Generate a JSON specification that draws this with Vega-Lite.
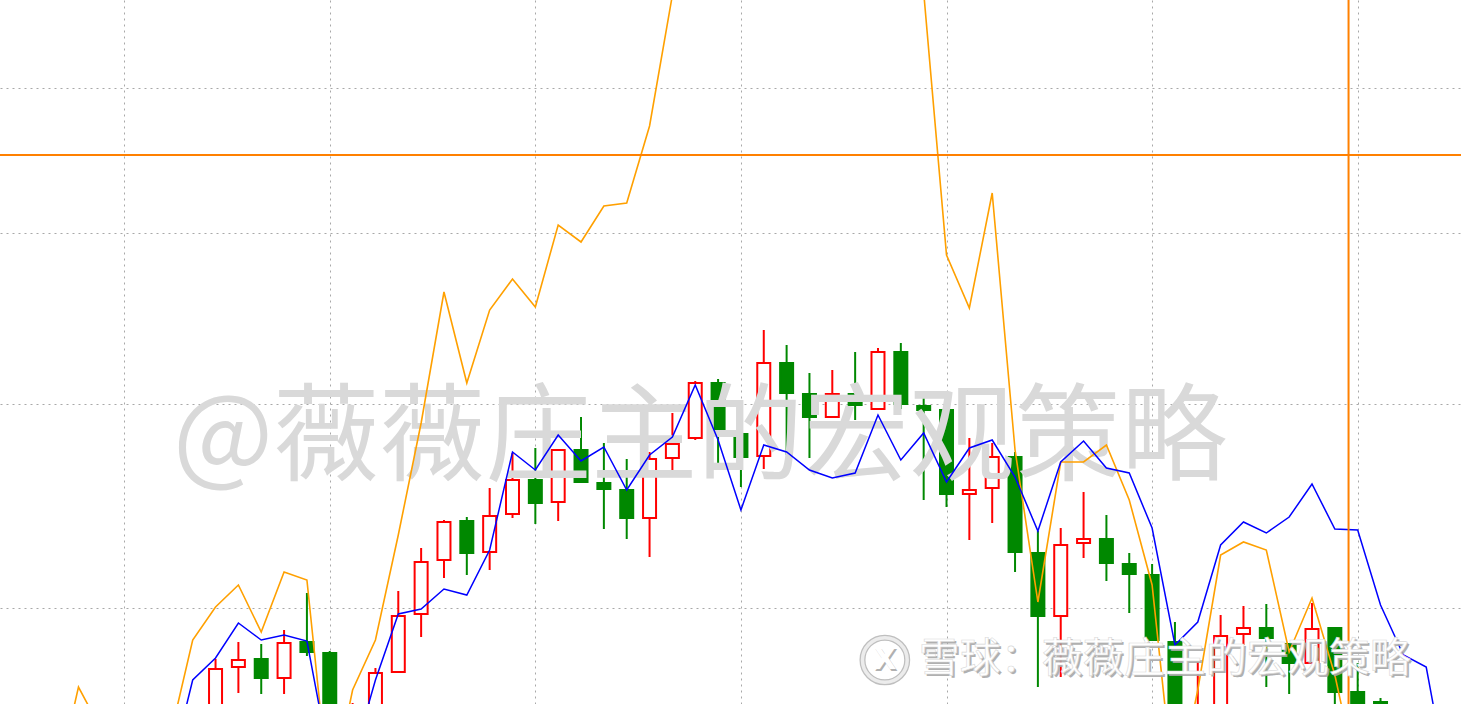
{
  "$schema": "https://vega.github.io/schema/vega-lite/v6.json",
  "width": 1461,
  "height": 704,
  "autosize": "none",
  "padding": 0,
  "background": "#ffffff",
  "config": {
    "view": {"stroke": null}
  },
  "datasets": {
    "candles": [
      {"k": 4, "open": -21, "close": 35, "high": 45, "low": -36},
      {"k": 5, "open": 37, "close": 44, "high": 62, "low": 11},
      {"k": 6, "open": 45, "close": 26, "high": 60, "low": 10},
      {"k": 7, "open": 26, "close": 61, "high": 74, "low": 10},
      {"k": 8, "open": 62, "close": 52, "high": 111, "low": 48},
      {"k": 9, "open": 51, "close": -36, "high": 53, "low": -56},
      {"k": 10, "open": -56, "close": -11, "high": 1, "low": -76},
      {"k": 11, "open": -26, "close": 31, "high": 36, "low": -41},
      {"k": 12, "open": 32, "close": 88, "high": 113, "low": 32},
      {"k": 13, "open": 90, "close": 142, "high": 156, "low": 67},
      {"k": 14, "open": 144, "close": 182, "high": 184, "low": 126},
      {"k": 15, "open": 183, "close": 151, "high": 187, "low": 129},
      {"k": 16, "open": 152, "close": 188, "high": 216, "low": 134},
      {"k": 17, "open": 190, "close": 224, "high": 251, "low": 186},
      {"k": 18, "open": 224, "close": 201, "high": 256, "low": 180},
      {"k": 19, "open": 202, "close": 254, "high": 254, "low": 183},
      {"k": 20, "open": 254, "close": 222, "high": 287, "low": 222},
      {"k": 21, "open": 221, "close": 215, "high": 261, "low": 175},
      {"k": 22, "open": 214, "close": 186, "high": 245, "low": 165},
      {"k": 23, "open": 186, "close": 245, "high": 252, "low": 147},
      {"k": 24, "open": 246, "close": 260, "high": 291, "low": 234},
      {"k": 25, "open": 266, "close": 321, "high": 323, "low": 264},
      {"k": 26, "open": 321, "close": 271, "high": 325, "low": 237},
      {"k": 27, "open": 270, "close": 247, "high": 304, "low": 217},
      {"k": 28, "open": 248, "close": 341, "high": 374, "low": 235},
      {"k": 29, "open": 341, "close": 311, "high": 359, "low": 249},
      {"k": 30, "open": 310, "close": 287, "high": 331, "low": 246},
      {"k": 31, "open": 287, "close": 310, "high": 334, "low": 287},
      {"k": 32, "open": 310, "close": 299, "high": 352, "low": 284},
      {"k": 33, "open": 295, "close": 352, "high": 356, "low": 295},
      {"k": 34, "open": 352, "close": 300, "high": 361, "low": 295},
      {"k": 35, "open": 298, "close": 294, "high": 310, "low": 204},
      {"k": 36, "open": 294, "close": 210, "high": 294, "low": 197},
      {"k": 37, "open": 210, "close": 214, "high": 266, "low": 164},
      {"k": 38, "open": 216, "close": 247, "high": 261, "low": 181},
      {"k": 39, "open": 247, "close": 152, "high": 252, "low": 132},
      {"k": 40, "open": 151, "close": 88, "high": 173, "low": 17},
      {"k": 41, "open": 88, "close": 159, "high": 176, "low": 27},
      {"k": 42, "open": 161, "close": 165, "high": 212, "low": 146},
      {"k": 43, "open": 165, "close": 141, "high": 189, "low": 123},
      {"k": 44, "open": 140, "close": 130, "high": 151, "low": 91},
      {"k": 45, "open": 129, "close": 64, "high": 140, "low": 64},
      {"k": 46, "open": 62, "close": -26, "high": 82, "low": -46},
      {"k": 47, "open": -26, "close": -8, "high": 42, "low": -36},
      {"k": 48, "open": -26, "close": 68, "high": 89, "low": -40},
      {"k": 49, "open": 70, "close": 76, "high": 98, "low": 59},
      {"k": 50, "open": 76, "close": 66, "high": 100, "low": 17},
      {"k": 51, "open": 60, "close": 41, "high": 60, "low": 10},
      {"k": 52, "open": 41, "close": 75, "high": 101, "low": 41},
      {"k": 53, "open": 76, "close": 12, "high": 76, "low": -6},
      {"k": 54, "open": 12, "close": -6, "high": 41, "low": -16},
      {"k": 55, "open": 2, "close": -11, "high": 6, "low": -20}
    ],
    "blue": [
      {"k": 2, "v": -69}, {"k": 3, "v": 24}, {"k": 4, "v": 46}, {"k": 5, "v": 81}, {"k": 6, "v": 64},
      {"k": 7, "v": 69}, {"k": 8, "v": 63}, {"k": 9, "v": -58}, {"k": 10, "v": -56}, {"k": 11, "v": 24},
      {"k": 12, "v": 90}, {"k": 13, "v": 95}, {"k": 14, "v": 115}, {"k": 15, "v": 109}, {"k": 16, "v": 154},
      {"k": 17, "v": 252}, {"k": 18, "v": 234}, {"k": 19, "v": 269}, {"k": 20, "v": 243}, {"k": 21, "v": 257},
      {"k": 22, "v": 214}, {"k": 23, "v": 249}, {"k": 24, "v": 267}, {"k": 25, "v": 319}, {"k": 26, "v": 264},
      {"k": 27, "v": 194}, {"k": 28, "v": 259}, {"k": 29, "v": 252}, {"k": 30, "v": 234}, {"k": 31, "v": 226},
      {"k": 32, "v": 231}, {"k": 33, "v": 289}, {"k": 34, "v": 244}, {"k": 35, "v": 271}, {"k": 36, "v": 222},
      {"k": 37, "v": 256}, {"k": 38, "v": 264}, {"k": 39, "v": 227}, {"k": 40, "v": 173}, {"k": 41, "v": 242},
      {"k": 42, "v": 263}, {"k": 43, "v": 236}, {"k": 44, "v": 231}, {"k": 45, "v": 176}, {"k": 46, "v": 59},
      {"k": 47, "v": 82}, {"k": 48, "v": 159}, {"k": 49, "v": 182}, {"k": 50, "v": 171}, {"k": 51, "v": 187},
      {"k": 52, "v": 220}, {"k": 53, "v": 175}, {"k": 54, "v": 174}, {"k": 55, "v": 99}, {"k": 56, "v": 49},
      {"k": 57, "v": 37}, {"k": 58, "v": -86}, {"k": 59, "v": -120}
    ],
    "orange": [
      {"k": -6, "v": -116}, {"k": -5, "v": -96}, {"k": -4, "v": -96}, {"k": -3, "v": -84}, {"k": -2, "v": 17},
      {"k": -1, "v": -26}, {"k": 0, "v": -76}, {"k": 1, "v": -76}, {"k": 2, "v": -34}, {"k": 3, "v": 64},
      {"k": 4, "v": 97}, {"k": 5, "v": 119}, {"k": 6, "v": 72}, {"k": 7, "v": 132}, {"k": 8, "v": 124},
      {"k": 9, "v": -96}, {"k": 10, "v": 14}, {"k": 11, "v": 64}, {"k": 12, "v": 169}, {"k": 13, "v": 281},
      {"k": 14, "v": 412}, {"k": 15, "v": 321}, {"k": 16, "v": 394}, {"k": 17, "v": 425}, {"k": 18, "v": 397},
      {"k": 19, "v": 479}, {"k": 20, "v": 462}, {"k": 21, "v": 498}, {"k": 22, "v": 501}, {"k": 23, "v": 578},
      {"k": 24, "v": 709}, {"k": 25, "v": 824}, {"k": 26, "v": 904}, {"k": 27, "v": 954}, {"k": 28, "v": 984},
      {"k": 29, "v": 1004}, {"k": 30, "v": 1014}, {"k": 31, "v": 994}, {"k": 32, "v": 954}, {"k": 33, "v": 884},
      {"k": 34, "v": 804}, {"k": 35, "v": 712}, {"k": 36, "v": 449}, {"k": 37, "v": 396}, {"k": 38, "v": 511},
      {"k": 39, "v": 254}, {"k": 40, "v": 102}, {"k": 41, "v": 242}, {"k": 42, "v": 242}, {"k": 43, "v": 259},
      {"k": 44, "v": 204}, {"k": 45, "v": 119}, {"k": 46, "v": -96}, {"k": 47, "v": 14}, {"k": 48, "v": 149},
      {"k": 49, "v": 162}, {"k": 50, "v": 154}, {"k": 51, "v": 52}, {"k": 52, "v": 106}, {"k": 53, "v": 29},
      {"k": 54, "v": -76}, {"k": 55, "v": -116}, {"k": 56, "v": -146}
    ]
  },
  "layer": [
    {
      "data": {"name": "candles"},
      "mark": {"type": "rule", "strokeWidth": 2, "clip": true},
      "encoding": {
        "x": {"field": "k", "type": "quantitative", "scale": {"domain": [-5.217, 58.304], "nice": false, "zero": false},
              "axis": {"values": [0, 9, 18, 27, 36, 45, 54], "grid": true, "gridColor": "#a8a8a8", "gridDash": [2, 4], "gridWidth": 1, "gridOpacity": 1, "labels": false, "ticks": false, "domain": false, "title": ""}},
        "y": {"field": "low", "type": "quantitative", "scale": {"domain": [0, 704], "nice": false, "zero": false},
              "axis": {"values": [96, 300, 471, 616], "grid": true, "gridColor": "#a8a8a8", "gridDash": [2, 4], "gridWidth": 1, "gridOpacity": 1, "labels": false, "ticks": false, "domain": false, "title": ""}},
        "y2": {"field": "high"},
        "color": {"condition": {"test": "datum.close >= datum.open", "value": "#ff0000"}, "value": "#008800"}
      }
    },
    {
      "data": {"name": "candles"},
      "mark": {"type": "bar", "width": 13, "strokeWidth": 2, "clip": true},
      "encoding": {
        "x": {"field": "k", "type": "quantitative"},
        "y": {"field": "open", "type": "quantitative"},
        "y2": {"field": "close"},
        "fill": {"condition": {"test": "datum.close >= datum.open", "value": "#ffffff"}, "value": "#008800"},
        "stroke": {"condition": {"test": "datum.close >= datum.open", "value": "#ff0000"}, "value": "#008800"}
      }
    },
    {
      "data": {"values": [{}]},
      "mark": {"type": "text", "font": "Noto Sans CJK SC", "fontSize": 106, "color": "#d9d9d9", "align": "center", "baseline": "middle"},
      "encoding": {
        "x": {"datum": 25.217, "type": "quantitative"},
        "y": {"datum": 264, "type": "quantitative"},
        "text": {"value": "@薇薇庄主的宏观策略"}
      }
    },
    {
      "data": {"name": "orange"},
      "mark": {"type": "line", "color": "#ffa000", "strokeWidth": 1.6, "clip": true},
      "encoding": {
        "x": {"field": "k", "type": "quantitative"},
        "y": {"field": "v", "type": "quantitative"}
      }
    },
    {
      "data": {"name": "blue"},
      "mark": {"type": "line", "color": "#0000ff", "strokeWidth": 1.5, "clip": true},
      "encoding": {
        "x": {"field": "k", "type": "quantitative"},
        "y": {"field": "v", "type": "quantitative"}
      }
    },
    {
      "data": {"values": [{}]},
      "mark": {"type": "rule", "color": "#ff8000", "strokeWidth": 2},
      "encoding": {"y": {"datum": 549, "type": "quantitative"}}
    },
    {
      "data": {"values": [{}]},
      "mark": {"type": "rule", "color": "#ff8000", "strokeWidth": 2},
      "encoding": {"x": {"datum": 53.6, "type": "quantitative"}}
    },
    {
      "data": {"values": [{}]},
      "mark": {"type": "point", "shape": "circle", "size": 2000, "filled": false, "stroke": "#b4b4b4", "strokeWidth": 6, "opacity": 0.85},
      "encoding": {
        "x": {"datum": 33.3, "type": "quantitative"},
        "y": {"datum": 44, "type": "quantitative"}
      }
    },
    {
      "data": {"values": [{}]},
      "mark": {"type": "point", "shape": "circle", "size": 2000, "filled": false, "stroke": "#ffffff", "strokeWidth": 3.5},
      "encoding": {
        "x": {"datum": 33.3, "type": "quantitative"},
        "y": {"datum": 44, "type": "quantitative"}
      }
    },
    {
      "data": {"values": [{}]},
      "mark": {"type": "text", "font": "DejaVu Sans", "fontSize": 30, "fontWeight": "bold", "color": "#b0b0b0", "align": "center", "baseline": "middle", "dx": 1.5, "dy": 1.5},
      "encoding": {
        "x": {"datum": 33.3, "type": "quantitative"},
        "y": {"datum": 44, "type": "quantitative"},
        "text": {"value": "X"}
      }
    },
    {
      "data": {"values": [{}]},
      "mark": {"type": "text", "font": "DejaVu Sans", "fontSize": 30, "fontWeight": "bold", "color": "#ffffff", "align": "center", "baseline": "middle"},
      "encoding": {
        "x": {"datum": 33.3, "type": "quantitative"},
        "y": {"datum": 44, "type": "quantitative"},
        "text": {"value": "X"}
      }
    },
    {
      "data": {"values": [{}]},
      "mark": {"type": "text", "font": "Noto Sans CJK SC", "fontSize": 41, "color": "#a8a8a8", "align": "left", "baseline": "middle", "dx": 2, "dy": 2, "opacity": 0.9},
      "encoding": {
        "x": {"datum": 34.78, "type": "quantitative"},
        "y": {"datum": 44, "type": "quantitative"},
        "text": {"value": "雪球：薇薇庄主的宏观策略"}
      }
    },
    {
      "data": {"values": [{}]},
      "mark": {"type": "text", "font": "Noto Sans CJK SC", "fontSize": 41, "color": "#ffffff", "align": "left", "baseline": "middle", "stroke": "#d8d8d8", "strokeWidth": 0.6},
      "encoding": {
        "x": {"datum": 34.78, "type": "quantitative"},
        "y": {"datum": 44, "type": "quantitative"},
        "text": {"value": "雪球：薇薇庄主的宏观策略"}
      }
    }
  ]
}
